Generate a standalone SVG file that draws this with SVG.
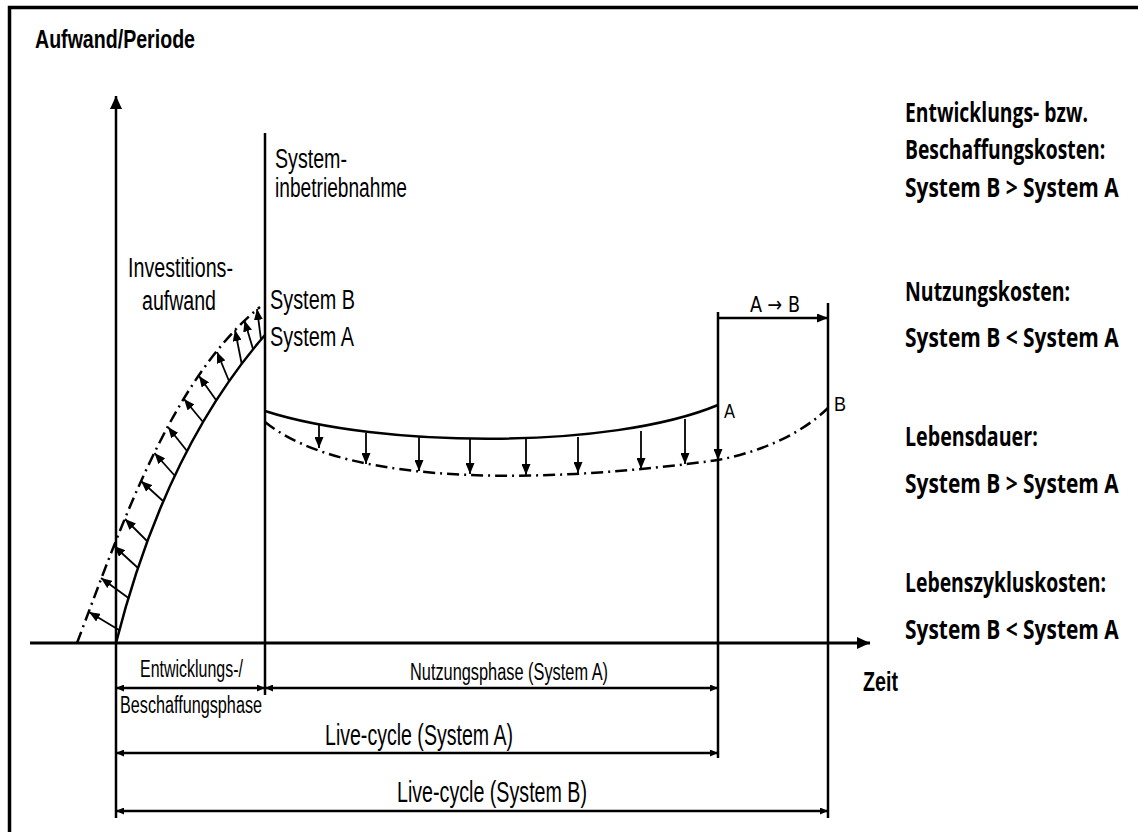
<svg xmlns="http://www.w3.org/2000/svg" width="1138" height="832" viewBox="0 0 1138 832">
<style>
.ln{stroke:#000;fill:none;stroke-width:2.5}
.ax{stroke:#000;fill:none;stroke-width:3}
.dd{stroke:#000;fill:none;stroke-width:2.5;stroke-dasharray:12 5 2 5}
.ar{stroke:#000;fill:none;stroke-width:1.8;marker-end:url(#ah)}
.dm{stroke:#000;fill:none;stroke-width:2.5;marker-start:url(#dm);marker-end:url(#dm)}
.t{font-family:"Liberation Sans",Arial,sans-serif;fill:#000}
.b{font-weight:bold}
.r{font-family:"Open Sans","Noto Sans",sans-serif;font-weight:700;font-size:26px;fill:#000}
</style>
<defs>
<marker id="ah" markerUnits="userSpaceOnUse" markerWidth="11" markerHeight="9" viewBox="0 0 11 9" refX="11" refY="4.5" orient="auto"><path d="M0,0 L11,4.5 L0,9 z" fill="#000"/></marker>
<marker id="dm" markerUnits="userSpaceOnUse" markerWidth="8" markerHeight="7" viewBox="0 0 8 7" refX="8" refY="3.5" orient="auto-start-reverse"><path d="M0,0 L8,3.5 L0,7 z" fill="#000"/></marker>
<marker id="axh" markerUnits="userSpaceOnUse" markerWidth="13" markerHeight="12" viewBox="0 0 13 12" refX="13" refY="6" orient="auto"><path d="M0,0 L13,6 L0,12 z" fill="#000"/></marker>
</defs>
<rect width="1138" height="832" fill="#fff"/>
<path d="M9.5,832 V7.5 H1138" stroke="#000" stroke-width="3.5" fill="none"/>

<g id="connectors">
  <path class="ax" d="M30,643 H870" marker-end="url(#axh)"/>
  <path class="ln" d="M116,818 V96" marker-end="url(#axh)"/>
  <path class="ln" d="M265,133 V695"/>
  <path class="ln" d="M718,312 V758"/>
  <path class="ln" d="M828,303 V818"/>
  <path class="ln" d="M718,318 H828" marker-end="url(#ah)"/>
  <path class="ln" d="M116,643 Q165,450 265,335"/>
  <path class="dd" d="M77,643 C120,530 170,380 260,307"/>
  <path class="ar" d="M119,630 L89,612"/>
  <path class="ar" d="M128.5,598 L101,578"/>
  <path class="ar" d="M138,568 L114,546"/>
  <path class="ar" d="M147,541 L125,519"/>
  <path class="ar" d="M163,501 L141,481"/>
  <path class="ar" d="M175,476 L154.5,453"/>
  <path class="ar" d="M187,451 L168,427"/>
  <path class="ar" d="M203,422 L184,399"/>
  <path class="ar" d="M216,400 L199,376"/>
  <path class="ar" d="M229,381 L217,352"/>
  <path class="ar" d="M241.7,363.7 L235,330"/>
  <path class="ar" d="M253,349 L244.5,320.5"/>
  <path class="ar" d="M261,339.6 L257,309"/>
  <path class="ln" d="M265,411 C380,448 610,450 718,405"/>
  <path class="dd" d="M265,422 C350,490 560,482 718,460 C760,452 800,435 828,408"/>
  <path class="ar" d="M319,424 V448"/>
  <path class="ar" d="M366,433 V464"/>
  <path class="ar" d="M419,437 V471"/>
  <path class="ar" d="M470,439 V474"/>
  <path class="ar" d="M526,439 V475"/>
  <path class="ar" d="M578,437 V473"/>
  <path class="ar" d="M641,431 V469"/>
  <path class="ar" d="M685,419 V464"/>
  <path class="ar" d="M718,406 V460"/>
  <path class="dm" d="M116,688 H265"/>
  <path class="dm" d="M265,688 H718"/>
  <path class="dm" d="M116,753 H718"/>
  <path class="dm" d="M116,811 H828"/>
</g>

<g id="axis-labels">
  <text class="t b" x="35" y="48" font-size="26" textLength="160" lengthAdjust="spacingAndGlyphs">Aufwand/Periode</text>
  <text class="t b" x="863" y="691" font-size="27" textLength="35" lengthAdjust="spacingAndGlyphs">Zeit</text>
</g>

<g id="inbetriebnahme">
  <text class="t" x="275" y="168" font-size="27" textLength="72" lengthAdjust="spacingAndGlyphs">System-</text>
  <text class="t" x="275" y="197" font-size="27" textLength="132" lengthAdjust="spacingAndGlyphs">inbetriebnahme</text>
</g>

<g id="investition">
  <text class="t" x="128" y="277" font-size="27" textLength="105" lengthAdjust="spacingAndGlyphs">Investitions-</text>
  <text class="t" x="142" y="310" font-size="27" textLength="74" lengthAdjust="spacingAndGlyphs">aufwand</text>
</g>

<g id="system-labels">
  <text class="t" x="270" y="309" font-size="27" textLength="85" lengthAdjust="spacingAndGlyphs">System B</text>
  <text class="t" x="270" y="346" font-size="27" textLength="84" lengthAdjust="spacingAndGlyphs">System A</text>
  <text x="750" y="312" font-family="'DejaVu Sans',sans-serif" font-size="22" fill="#000" textLength="50" lengthAdjust="spacingAndGlyphs">A → B</text>
  <text class="t" x="724" y="418" font-size="21" textLength="11" lengthAdjust="spacingAndGlyphs">A</text>
  <text class="t" x="834" y="411" font-size="21" textLength="12" lengthAdjust="spacingAndGlyphs">B</text>
</g>

<g id="phases">
  <text class="t" x="140" y="677" font-size="23" textLength="103" lengthAdjust="spacingAndGlyphs">Entwicklungs-/</text>
  <text class="t" x="120" y="713" font-size="23" textLength="142" lengthAdjust="spacingAndGlyphs">Beschaffungsphase</text>
  <text class="t" x="410" y="680" font-size="23" textLength="198" lengthAdjust="spacingAndGlyphs">Nutzungsphase (System A)</text>
  <text class="t" x="325" y="745" font-size="29" textLength="188" lengthAdjust="spacingAndGlyphs">Live-cycle (System A)</text>
  <text class="t" x="397" y="802" font-size="29" textLength="190" lengthAdjust="spacingAndGlyphs">Live-cycle (System B)</text>
</g>

<g id="legend">
  <text class="r" transform="translate(905,122) scale(0.75,1)" textLength="244" lengthAdjust="spacingAndGlyphs">Entwicklungs- bzw.</text>
  <text class="r" transform="translate(905,159) scale(0.75,1)" textLength="267" lengthAdjust="spacingAndGlyphs">Beschaffungskosten:</text>
  <text class="r" transform="translate(905,197) scale(0.75,1)" textLength="285" lengthAdjust="spacingAndGlyphs">System B &gt; System A</text>
  <text class="r" transform="translate(905,301) scale(0.75,1)" textLength="220" lengthAdjust="spacingAndGlyphs">Nutzungskosten:</text>
  <text class="r" transform="translate(905,347) scale(0.75,1)" textLength="285" lengthAdjust="spacingAndGlyphs">System B &lt; System A</text>
  <text class="r" transform="translate(905,446) scale(0.75,1)" textLength="177" lengthAdjust="spacingAndGlyphs">Lebensdauer:</text>
  <text class="r" transform="translate(905,493) scale(0.75,1)" textLength="285" lengthAdjust="spacingAndGlyphs">System B &gt; System A</text>
  <text class="r" transform="translate(905,592) scale(0.75,1)" textLength="268" lengthAdjust="spacingAndGlyphs">Lebenszykluskosten:</text>
  <text class="r" transform="translate(905,639) scale(0.75,1)" textLength="285" lengthAdjust="spacingAndGlyphs">System B &lt; System A</text>
</g>
</svg>
